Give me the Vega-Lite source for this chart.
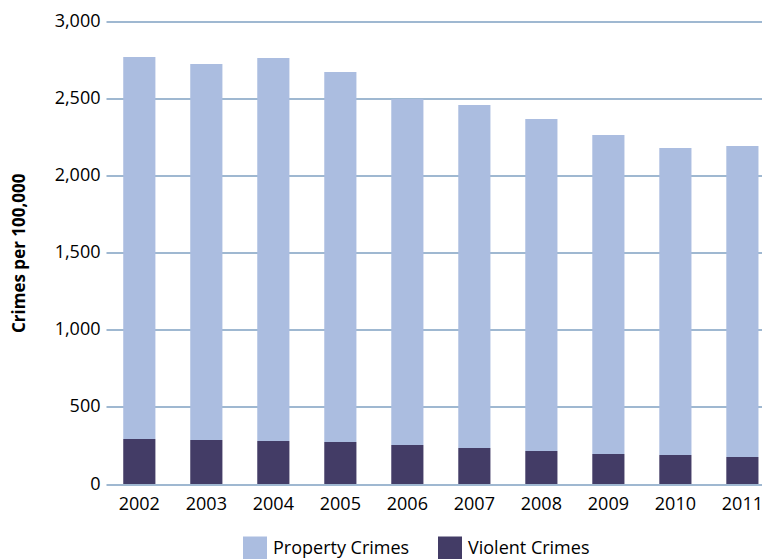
{
  "$schema": "https://vega.github.io/schema/vega-lite/v6.json",
  "width": 656,
  "height": 462.5,
  "autosize": {"type": "none"},
  "padding": {"left": 106, "top": 21.5, "right": 0, "bottom": 75},
  "background": "white",
  "config": {
    "font": "Open Sans",
    "view": {"stroke": null}
  },
  "data": {
    "values": [
      {"year": "2002", "type": "Property Crimes", "rate": 2478},
      {"year": "2002", "type": "Violent Crimes", "rate": 292},
      {"year": "2003", "type": "Property Crimes", "rate": 2439},
      {"year": "2003", "type": "Violent Crimes", "rate": 285},
      {"year": "2004", "type": "Property Crimes", "rate": 2484},
      {"year": "2004", "type": "Violent Crimes", "rate": 279},
      {"year": "2005", "type": "Property Crimes", "rate": 2400},
      {"year": "2005", "type": "Violent Crimes", "rate": 272},
      {"year": "2006", "type": "Property Crimes", "rate": 2245},
      {"year": "2006", "type": "Violent Crimes", "rate": 253},
      {"year": "2007", "type": "Property Crimes", "rate": 2225},
      {"year": "2007", "type": "Violent Crimes", "rate": 233},
      {"year": "2008", "type": "Property Crimes", "rate": 2154},
      {"year": "2008", "type": "Violent Crimes", "rate": 214},
      {"year": "2009", "type": "Property Crimes", "rate": 2069},
      {"year": "2009", "type": "Violent Crimes", "rate": 195},
      {"year": "2010", "type": "Property Crimes", "rate": 1991},
      {"year": "2010", "type": "Violent Crimes", "rate": 188},
      {"year": "2011", "type": "Property Crimes", "rate": 2017},
      {"year": "2011", "type": "Violent Crimes", "rate": 175}
    ]
  },
  "mark": {"type": "bar"},
  "encoding": {
    "x": {
      "field": "year",
      "type": "ordinal",
      "scale": {"paddingInner": 0.52, "paddingOuter": 0.155, "align": 0.83},
      "axis": {
        "title": null,
        "labelAngle": 0,
        "domain": false,
        "ticks": false,
        "labelPadding": 11,
        "labelFontSize": 18,
        "labelColor": "#000000"
      }
    },
    "y": {
      "field": "rate",
      "type": "quantitative",
      "stack": "zero",
      "scale": {"domain": [0, 3000], "nice": false},
      "axis": {
        "title": "Crimes per 100,000",
        "titleFontSize": 17,
        "titleFontWeight": "bold",
        "titleColor": "#000000",
        "titlePadding": 26,
        "values": [0, 500, 1000, 1500, 2000, 2500, 3000],
        "format": ",.0f",
        "domain": false,
        "ticks": false,
        "labelPadding": 6,
        "labelFontSize": 18,
        "labelColor": "#000000",
        "gridColor": "#7FA0C2",
        "gridWidth": 1.3,
        "gridOpacity": 1
      }
    },
    "color": {
      "field": "type",
      "type": "nominal",
      "scale": {
        "domain": ["Property Crimes", "Violent Crimes"],
        "range": ["#ABBDE0", "#433C66"]
      },
      "legend": {
        "title": null,
        "orient": "none",
        "direction": "horizontal",
        "legendX": 137,
        "legendY": 515,
        "symbolType": "square",
        "symbolSize": 576,
        "symbolStrokeWidth": 0,
        "labelFontSize": 18,
        "labelColor": "#000000",
        "labelOffset": 6,
        "columnPadding": 28
      }
    },
    "order": {"field": "type", "sort": "descending"}
  }
}
